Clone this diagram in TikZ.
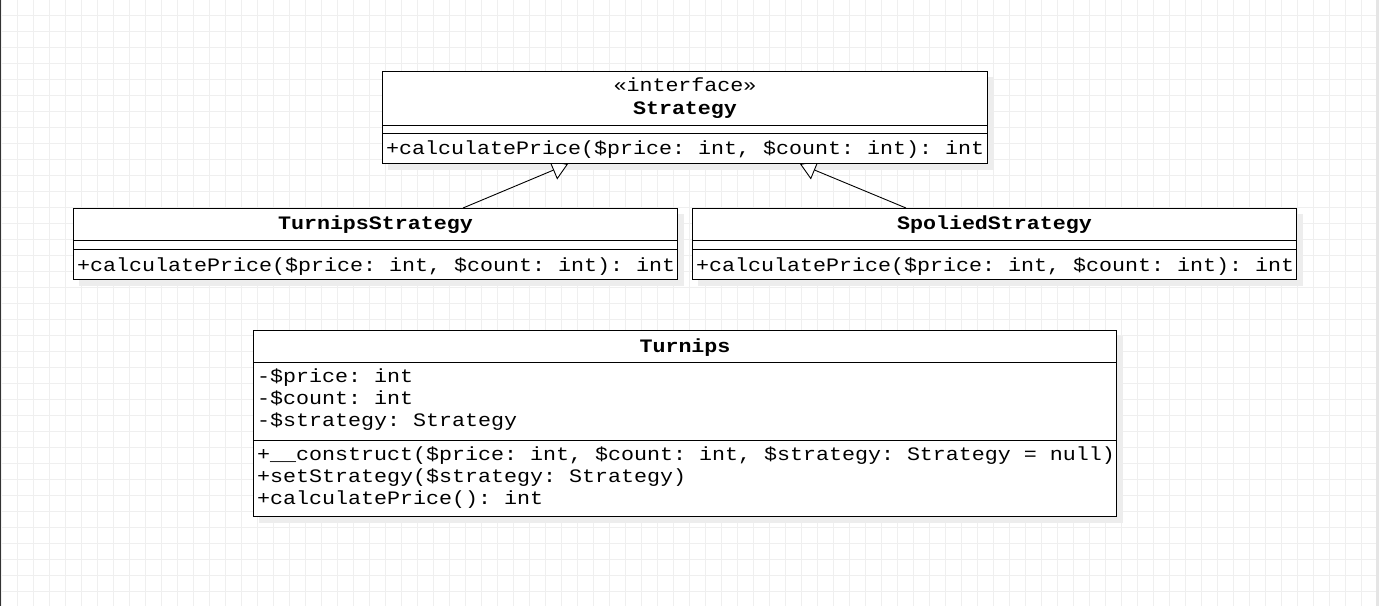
\documentclass[tikz,border=0pt]{standalone}
\usepackage{fontspec}
\newfontfamily\umlfont{Liberation Mono}[FakeStretch=1.14]
\usetikzlibrary{arrows.meta,calc}
\pgfdeclarelayer{bg}
\pgfdeclarelayer{shd}
\pgfdeclarelayer{arr}
\pgfsetlayers{bg,shd,arr,main}
\definecolor{gridc}{HTML}{EFEFEF}
\definecolor{shadowc}{HTML}{EDEDED}
\definecolor{edgec}{HTML}{333333}
\frenchspacing
\begin{document}
\begin{tikzpicture}[x=1pt,y=-1pt,
  umlbox/.style={draw=black, fill=white, line width=1pt, rectangle, inner sep=0pt, anchor=north west},
  sep/.style={draw=black, line width=1pt},
  txt/.style={font=\umlfont\frenchspacing\fontsize{19}{22}\selectfont, inner sep=0pt},
  ttl/.style={font=\umlfont\frenchspacing\bfseries\fontsize{19}{22}\selectfont, inner sep=0pt},
  gen/.style={draw=black, line width=0.9pt, -{Triangle[open, fill=white, length=16pt, width=20pt]}}
]
\useasboundingbox (0,0) rectangle (1379,606);
\begin{pgfonlayer}{bg}
  \fill[white] (0,0) rectangle (1379,606);
  \foreach \i in {0,...,86} { \draw[gridc, line width=1pt] (1.3+16*\i,0) -- (1.3+16*\i,606); }
  \foreach \j in {0,...,37} { \draw[gridc, line width=1pt] (0,15.3+16*\j) -- (1379,15.3+16*\j); }
  \fill[edgec] (0,0) rectangle (1.4,606);
  \fill[black!10] (1376,0) rectangle (1379,606);
\end{pgfonlayer}

% boxes
\node[umlbox, minimum width=605pt, minimum height=92pt] (strat) at (382,71) {};
\node[umlbox, minimum width=604pt, minimum height=71pt] (ts) at (73,208) {};
\node[umlbox, minimum width=604pt, minimum height=71pt] (ss) at (692,208) {};
\node[umlbox, minimum width=863pt, minimum height=186pt] (tu) at (253,330) {};

\begin{pgfonlayer}{shd}
  \foreach \b in {strat,ts,ss,tu} {
    \fill[shadowc] ($(\b.north west)+(6,6)$) rectangle ($(\b.south east)+(6,6)$);
  }
\end{pgfonlayer}

% compartments
\draw[sep] ($(strat.north west)+(0,54)$) -- ($(strat.north east)+(0,54)$);
\draw[sep] ($(strat.north west)+(0,62)$) -- ($(strat.north east)+(0,62)$);
\draw[sep] ($(ts.north west)+(0,32)$) -- ($(ts.north east)+(0,32)$);
\draw[sep] ($(ts.north west)+(0,41)$) -- ($(ts.north east)+(0,41)$);
\draw[sep] ($(ss.north west)+(0,32)$) -- ($(ss.north east)+(0,32)$);
\draw[sep] ($(ss.north west)+(0,41)$) -- ($(ss.north east)+(0,41)$);
\draw[sep] ($(tu.north west)+(0,32)$) -- ($(tu.north east)+(0,32)$);
\draw[sep] ($(tu.north west)+(0,110)$) -- ($(tu.north east)+(0,110)$);

% texts: Strategy
\node[txt, anchor=base] (stster) at ($(strat.north)+(0,20)$) {«interface»};
\node[ttl, anchor=base] (stname) at ($(strat.north)+(0,43)$) {Strategy};
\node[txt, anchor=base west] (stm) at ($(strat.north west)+(4,83)$) {+calculatePrice(\$price: int, \$count: int): int};

% TurnipsStrategy
\node[ttl, anchor=base] (tsname) at ($(ts.north)+(0,21)$) {TurnipsStrategy};
\node[txt, anchor=base west] (tsm) at ($(ts.north west)+(4,63)$) {+calculatePrice(\$price: int, \$count: int): int};

% SpoliedStrategy
\node[ttl, anchor=base] (ssname) at ($(ss.north)+(0,21)$) {SpoliedStrategy};
\node[txt, anchor=base west] (ssm) at ($(ss.north west)+(4,63)$) {+calculatePrice(\$price: int, \$count: int): int};

% Turnips
\node[ttl, anchor=base] (tuname) at ($(tu.north)+(0,22)$) {Turnips};
\node[txt, anchor=base west] (tua1) at ($(tu.north west)+(4,52)$) {-\$price: int};
\node[txt, anchor=base west] (tua2) at ($(tu.north west)+(4,74)$) {-\$count: int};
\node[txt, anchor=base west] (tua3) at ($(tu.north west)+(4,96)$) {-\$strategy: Strategy};
\node[txt, anchor=base west] (tum1) at ($(tu.north west)+(4,130)$) {+\_\_construct(\$price: int, \$count: int, \$strategy: Strategy = null)};
\node[txt, anchor=base west] (tum2) at ($(tu.north west)+(4,152)$) {+setStrategy(\$strategy: Strategy)};
\node[txt, anchor=base west] (tum3) at ($(tu.north west)+(4,174)$) {+calculatePrice(): int};

% generalizations
\coordinate (g1s) at ($(ts.north west)+(390,0)$);
\coordinate (g1e) at ($(strat.south west)+(186,0)$);
\coordinate (g2s) at ($(ss.north west)+(214,0)$);
\coordinate (g2e) at ($(strat.south west)+(418,0)$);
\begin{pgfonlayer}{arr}
  \draw[gen] (g1s) -- (g1e);
  \draw[gen] (g2s) -- (g2e);
\end{pgfonlayer}
\end{tikzpicture}
\end{document}
